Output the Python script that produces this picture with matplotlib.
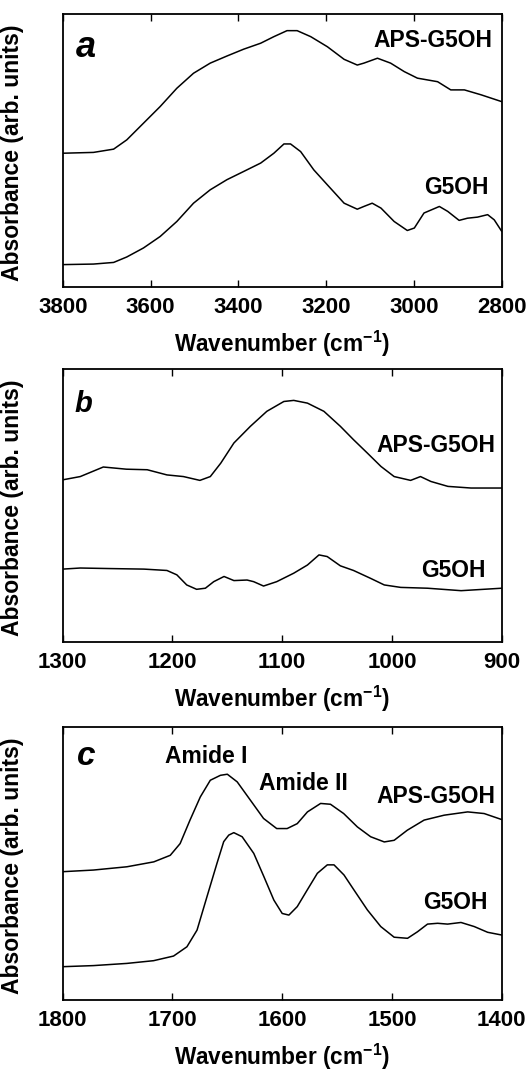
import matplotlib
matplotlib.use("Agg")
import matplotlib.pyplot as plt
import numpy as np

plt.rcParams['font.family'] = ['Liberation Sans', 'DejaVu Sans']
plt.rcParams['font.weight'] = 'bold'
plt.rcParams['mathtext.fontset'] = 'custom'
plt.rcParams['mathtext.rm'] = 'Liberation Sans:bold'
plt.rcParams['mathtext.bf'] = 'Liberation Sans:bold'
plt.rcParams['mathtext.it'] = 'Liberation Sans:bold:italic'

# ---------------- Panel a (3800-2800 cm-1) ----------------
a_aps_x = [3800, 3730, 3684, 3654, 3616, 3578, 3540, 3502, 3464, 3426, 3388, 3349, 3319,
           3289, 3266, 3235, 3197, 3159, 3129, 3114, 3083, 3053, 3022, 2992, 2946, 2916,
           2885, 2847, 2800]
a_aps_y = [0.490, 0.493, 0.505, 0.539, 0.600, 0.661, 0.728, 0.783, 0.820, 0.846, 0.871,
           0.893, 0.917, 0.939, 0.939, 0.917, 0.880, 0.834, 0.813, 0.820, 0.838, 0.820,
           0.789, 0.765, 0.752, 0.722, 0.722, 0.704, 0.679]
a_g5_x = [3800, 3730, 3684, 3654, 3616, 3578, 3540, 3502, 3464, 3426, 3388, 3349, 3319,
          3296, 3281, 3258, 3228, 3197, 3159, 3129, 3114, 3095, 3075, 3045, 3015, 2999,
          2977, 2942, 2923, 2897, 2878, 2855, 2832, 2817, 2800]
a_g5_y = [0.082, 0.084, 0.090, 0.110, 0.143, 0.185, 0.240, 0.307, 0.356, 0.393, 0.423,
          0.454, 0.490, 0.524, 0.524, 0.496, 0.429, 0.374, 0.307, 0.285, 0.295, 0.307,
          0.289, 0.240, 0.207, 0.216, 0.271, 0.295, 0.277, 0.244, 0.252, 0.256, 0.265,
          0.246, 0.204]
a_ticks = [3800, 3600, 3400, 3200, 3000, 2800]

# ---------------- Panel b (1300-900 cm-1) ----------------
b_aps_x = [1300, 1284, 1263, 1242, 1223, 1205, 1190, 1175, 1165.5, 1156, 1144, 1129, 1114,
           1098.5, 1089.5, 1077, 1062, 1047, 1035, 1022.4, 1010, 998, 983, 974, 964.5,
           949, 928, 900]
b_aps_y = [0.594, 0.606, 0.641, 0.633, 0.631, 0.612, 0.606, 0.592, 0.606, 0.655, 0.729,
           0.790, 0.845, 0.881, 0.885, 0.875, 0.845, 0.790, 0.741, 0.692, 0.643, 0.606,
           0.592, 0.606, 0.588, 0.570, 0.564, 0.564]
b_g5_x = [1300, 1284, 1257, 1226, 1205, 1196, 1187, 1178, 1170, 1162.4, 1153, 1144, 1132,
          1126, 1117, 1105, 1089.5, 1077, 1066.5, 1059, 1047, 1035, 1019.4, 1007, 992,
          967.6, 937, 900]
b_g5_y = [0.267, 0.271, 0.269, 0.267, 0.262, 0.246, 0.209, 0.193, 0.197, 0.221, 0.240,
          0.225, 0.227, 0.221, 0.205, 0.221, 0.252, 0.282, 0.319, 0.313, 0.279, 0.262,
          0.233, 0.209, 0.200, 0.197, 0.188, 0.197]
b_ticks = [1300, 1200, 1100, 1000, 900]

# ---------------- Panel c (1800-1400 cm-1) ----------------
c_aps_x = [1800, 1772, 1741.5, 1717, 1702, 1693, 1684, 1674.6, 1665.5, 1656.3, 1650, 1641,
           1629, 1617, 1605, 1595.5, 1586.3, 1577, 1565, 1556, 1544, 1531.5, 1519.4, 1507,
           1498, 1486, 1470.7, 1452.4, 1431, 1416, 1400]
c_aps_y = [0.470, 0.476, 0.488, 0.506, 0.530, 0.573, 0.659, 0.744, 0.805, 0.823, 0.827,
           0.799, 0.732, 0.665, 0.628, 0.628, 0.646, 0.689, 0.720, 0.717, 0.683, 0.634,
           0.598, 0.579, 0.585, 0.622, 0.659, 0.677, 0.689, 0.683, 0.661]
c_g5_x = [1800, 1772, 1741.6, 1717.2, 1699, 1686.8, 1677.6, 1668.5, 1659.4, 1653.3, 1648.7,
          1644.1, 1636.5, 1625.9, 1616.7, 1607.6, 1600, 1593.9, 1586.3, 1577.2, 1568,
          1558.9, 1552.8, 1543.7, 1534.6, 1522.4, 1510.2, 1498, 1485.8, 1476.7, 1467.6,
          1458.4, 1449.3, 1437.1, 1425, 1412.8, 1400]
c_g5_y = [0.122, 0.126, 0.134, 0.144, 0.161, 0.195, 0.256, 0.379, 0.501, 0.580, 0.604,
          0.613, 0.598, 0.537, 0.452, 0.366, 0.317, 0.311, 0.342, 0.403, 0.464, 0.495,
          0.495, 0.458, 0.403, 0.330, 0.269, 0.230, 0.226, 0.250, 0.278, 0.281, 0.278,
          0.284, 0.269, 0.248, 0.238]
c_ticks = [1800, 1700, 1600, 1500, 1400]

xlabel = r'Wavenumber (cm$^{\mathbf{-1}}$)'
ylabel = 'Absorbance (arb. units)'

fig = plt.figure(figsize=(5.28, 10.71), dpi=100)
L, W, H = 62.7 / 528, 439 / 528, 273 / 1071
bottoms = [(1071 - 287) / 1071, (1071 - 642) / 1071, (1071 - 1000) / 1071]

panels = [
    (a_aps_x, a_aps_y, a_g5_x, a_g5_y, a_ticks, 'a', (0.030, 0.842), 26,
     (0.980, 0.879), (0.971, 0.341)),
    (b_aps_x, b_aps_y, b_g5_x, b_g5_y, b_ticks, 'b', (0.028, 0.842), 21,
     (0.985, 0.696), (0.964, 0.238)),
    (c_aps_x, c_aps_y, c_g5_x, c_g5_y, c_ticks, 'c', (0.033, 0.861), 24,
     (0.985, 0.722), (0.967, 0.333)),
]

FS = 16.5
for i, (ax_x, ax_y, gx, gy, ticks, letter, lpos, lsize, apos, gpos) in enumerate(panels):
    ax = fig.add_axes([L, bottoms[i], W, H])
    ax.plot(ax_x, ax_y, color='black', lw=1.1)
    ax.plot(gx, gy, color='black', lw=1.1)
    ax.set_xlim(ticks[0], ticks[-1])
    ax.set_ylim(0, 1)
    ax.set_xticks(ticks)
    ax.set_xticklabels([str(t) for t in ticks], fontsize=16, fontweight='bold')
    ax.tick_params(axis='x', direction='in', length=5, width=1, top=True, pad=7)
    ax.set_yticks([])
    for s in ax.spines.values():
        s.set_linewidth(1.3)
    ax.set_xlabel(xlabel, fontsize=16.3, fontweight='bold', labelpad=8)
    ax.set_ylabel(ylabel, fontsize=16.5, fontweight='bold')
    ax.yaxis.set_label_coords(-0.088, 0.49)
    ax.text(lpos[0], lpos[1], letter, transform=ax.transAxes, fontsize=lsize,
            fontweight='bold', fontstyle='italic', ha='left', va='baseline')
    ax.text(apos[0], apos[1], 'APS-G5OH', transform=ax.transAxes, fontsize=FS,
            fontweight='bold', ha='right', va='baseline')
    ax.text(gpos[0], gpos[1], 'G5OH', transform=ax.transAxes, fontsize=FS,
            fontweight='bold', ha='right', va='baseline')
    if letter == 'c':
        ax.text(0.233, 0.868, 'Amide I', transform=ax.transAxes, fontsize=FS,
                fontweight='bold', ha='left', va='baseline')
        ax.text(0.447, 0.769, 'Amide II', transform=ax.transAxes, fontsize=FS,
                fontweight='bold', ha='left', va='baseline')

fig.savefig('out.png', dpi=100)
